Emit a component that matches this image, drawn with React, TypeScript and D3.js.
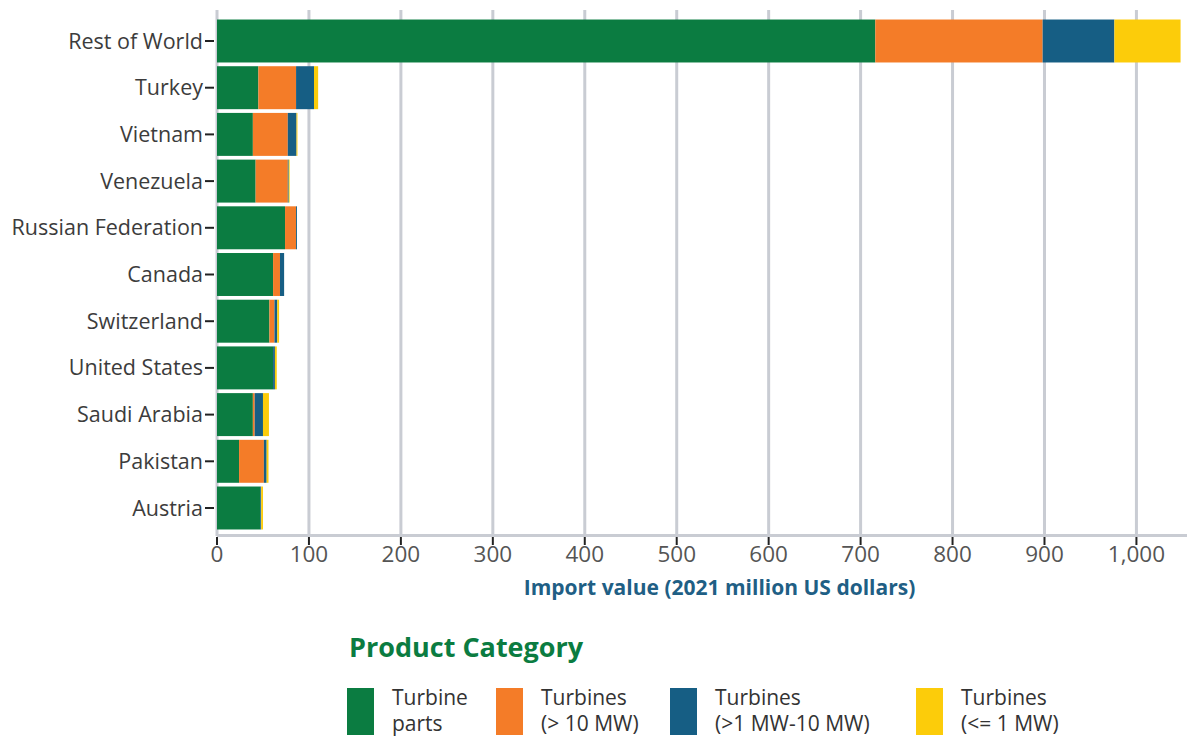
import React from "react";
import * as d3 from "d3";

const categories = ["Rest of World", "Turkey", "Vietnam", "Venezuela", "Russian Federation", "Canada", "Switzerland", "United States", "Saudi Arabia", "Pakistan", "Austria"];
const turbineParts = [716, 45, 39, 42, 74, 61, 57, 61, 39, 24, 47];
const turbinesOver10 = [182, 41, 38, 35, 12, 7.5, 5.5, 0, 2, 27, 0];
const turbines1to10 = [78, 19.5, 9.5, 1, 1, 4.5, 3, 2, 9, 3, 1];
const turbinesUnder1 = [72, 4.5, 1, 1, 0, 0, 2, 2, 6.5, 2, 2];
const xTicks = [0, 100, 200, 300, 400, 500, 600, 700, 800, 900, 1000];
const seriesNames = ["Turbine parts", "Turbines (> 10 MW)", "Turbines (>1 MW-10 MW)", "Turbines (<= 1 MW)"];
const legendLines = [["Turbine", "parts"], ["Turbines", "(> 10 MW)"], ["Turbines", "(>1 MW-10 MW)"], ["Turbines", "(<= 1 MW)"]];
const colors = ["#0b7c41", "#f47c28", "#165e84", "#fccc0a"];

export default function App() {
  const W = 1187, H = 738;
  const x = d3.scaleLinear().domain([0, 1055]).range([217, 1187]);
  const y = d3.scaleBand().domain(categories).range([17.65, 531.35]).paddingInner(0.08).paddingOuter(0.04);
  const rows = categories.map((c, i) => ({
    cat: c,
    parts: turbineParts[i],
    over10: turbinesOver10[i],
    mid: turbines1to10[i],
    under1: turbinesUnder1[i],
  }));
  const keys = ["parts", "over10", "mid", "under1"];
  const stack = d3.stack<any>().keys(keys)(rows);
  const font = "'Open Sans', Roboto, sans-serif";
  const legendX = [347, 496, 670, 916];
  return (
    <svg width={W} height={H} style={{ position: "absolute", left: 0, top: 0, background: "#fff" }} fontFamily={font}>
      {xTicks.map((t) => (
        <line key={"g" + t} x1={x(t)} x2={x(t)} y1={10} y2={536} stroke="#c9ccd3" strokeWidth={3} />
      ))}
      <line x1={217} x2={1187} y1={535.5} y2={535.5} stroke="#c9ccd3" strokeWidth={3} />
      {stack.map((s, si) => (
        <g key={si} fill={colors[si]}>
          {s.map((d: any, i: number) => (
            d[1] - d[0] > 0 ? (
              <rect key={i} x={x(d[0])} width={x(d[1]) - x(d[0])} y={y(categories[i])} height={y.bandwidth()} />
            ) : null
          ))}
          <title>{seriesNames[si]}</title>
        </g>
      ))}
      {categories.map((c) => (
        <g key={c}>
          <line x1={205} x2={214} y1={y(c)! + y.bandwidth() / 2} y2={y(c)! + y.bandwidth() / 2} stroke="#222" strokeWidth={2} />
          <text x={203} y={y(c)! + y.bandwidth() / 2} dy="0.35em" textAnchor="end" fontSize={21.5} fill="#3c3c3c">{c}</text>
        </g>
      ))}
      {xTicks.map((t) => (
        <g key={"t" + t}>
          <line x1={x(t)} x2={x(t)} y1={537} y2={545} stroke="#222" strokeWidth={2} />
          <text x={x(t)} y={554} dy="0.35em" textAnchor="middle" fontSize={22.5} fill="#555">{d3.format(",")(t)}</text>
        </g>
      ))}
      <text x={719.5} y={588} dy="0.35em" textAnchor="middle" fontSize={21} fontWeight="bold" fill="#1f5f85">Import value (2021 million US dollars)</text>
      <text x={349} y={657} fontSize={27} fontWeight="bold" fill="#0b7c41">Product Category</text>
      {legendLines.map((lines, i) => (
        <g key={"l" + i}>
          <rect x={legendX[i]} y={688} width={27} height={47} fill={colors[i]} />
          <text x={legendX[i] + 45} y={705} fontSize={21} fill="#333">{lines[0]}</text>
          <text x={legendX[i] + 45} y={731} fontSize={21} fill="#333">{lines[1]}</text>
        </g>
      ))}
    </svg>
  );
}
